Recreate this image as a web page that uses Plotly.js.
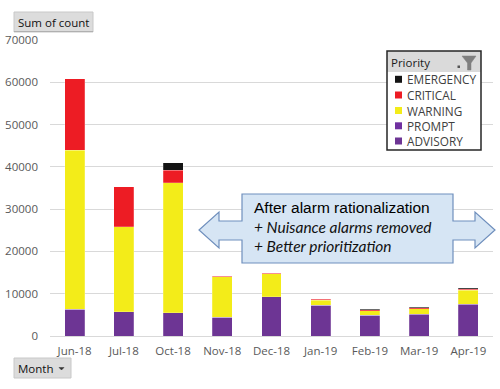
<!DOCTYPE html>
<html>
<head>
<meta charset="utf-8">
<script src="https://cdn.plot.ly/plotly-3.0.1.min.js"></script>
<style>html,body{margin:0;padding:0;background:#fff;}#chart{width:500px;height:389px;}</style>
</head>
<body>
<div id="chart"></div>
<script>
// ---- data ----
const months = ['Jun-18','Jul-18','Oct-18','Nov-18','Dec-18','Jan-19','Feb-19','Mar-19','Apr-19'];
const advisory  = [6300, 5700, 5450, 4400, 9240, 7250, 4880, 5050, 7430];
const prompt    = [  80,   50,   50,   50,   50,   50,   50,   50,   50];
const warning   = [37500,20100,30800, 9530, 5400, 1130, 1100, 1330, 3320];
const critical  = [16900, 9450, 2900,  100,  120,  250,  200,  200,  250];
const emergency = [    0,    0, 1750,  120,  120,  120,  130,  130,  300];
const seriesNames = ['EMERGENCY','CRITICAL','WARNING','PROMPT','ADVISORY'];
const yTickVals = [0,10000,20000,30000,40000,50000,60000,70000];
const calloutTitle = 'After alarm rationalization';
const calloutLines = ['+ Nuisance alarms removed', '+ Better prioritization'];

// ---- styling ----
const colors = {EMERGENCY:'#141414', CRITICAL:'#ed1c24', WARNING:'#f3ec19', PROMPT:'#7030a0', ADVISORY:'#6d3594'};
const W=500,H=389,ML=50,MR=7,MT=40,MB=53;
const PW=W-ML-MR, PH=H-MT-MB;
const px = x => (x-ML)/PW;
const py = y => (H-MB-y)/PH;
const axisFont = {family:'"Open Sans", sans-serif', size:11.5, color:'#595959'};

const valuesByName = {ADVISORY:advisory, PROMPT:prompt, WARNING:warning, CRITICAL:critical, EMERGENCY:emergency};
const stackOrder = ['ADVISORY','PROMPT','WARNING','CRITICAL','EMERGENCY'];
const traces = stackOrder.map(n => ({
  type:'bar', name:n, x:months, y:valuesByName[n],
  marker:{color:colors[n], line:{color:'rgba(255,255,255,0.35)', width:0.6}},
  hoverinfo:'x+y+name'
}));

const shapes = [];
const annotations = [];

// "Sum of count" field button
shapes.push({type:'rect', xref:'paper', yref:'paper', x0:px(14), x1:px(93), y0:py(12), y1:py(32),
  fillcolor:'#dcdcdc', line:{color:'#c8c8c8', width:1}});
shapes.push({type:'line', xref:'paper', yref:'paper', x0:px(14), x1:px(93), y0:py(31.5), y1:py(31.5),
  line:{color:'#b0b0b0', width:1}});
annotations.push({xref:'paper', yref:'paper', x:px(16), y:py(22), xanchor:'left', yanchor:'middle', showarrow:false,
  text:'Sum of count', font:{family:'"Open Sans", sans-serif', size:11.5, color:'#111'}});

// "Month" field button
shapes.push({type:'rect', xref:'paper', yref:'paper', x0:px(14), x1:px(71), y0:py(358), y1:py(378),
  fillcolor:'#dcdcdc', line:{color:'#c8c8c8', width:1}});
shapes.push({type:'path', xref:'paper', yref:'paper',
  path:`M${px(59)},${py(367.5)} L${px(64)},${py(367.5)} L${px(61.5)},${py(370)} Z`,
  fillcolor:'#333', line:{color:'#333', width:0.5}});
annotations.push({xref:'paper', yref:'paper', x:px(16), y:py(368.5), xanchor:'left', yanchor:'middle', showarrow:false,
  text:'Month', font:{family:'"Open Sans", sans-serif', size:11.5, color:'#111'}});

// Callout: rectangle with left/right arrows
const cp = [[242,194],[453,194],[453,221],[475,221],[475,212],[495,230],[475,248],[475,240],[453,240],[453,263],
            [242,263],[242,240],[219,240],[219,248],[199,230],[219,212],[219,221],[242,221]];
shapes.push({type:'path', xref:'paper', yref:'paper', layer:'above',
  path:'M'+cp.map(p=>px(p[0])+','+py(p[1])).join(' L')+' Z',
  fillcolor:'#d6e5f4', line:{color:'#6f8fbd', width:1.2}});
annotations.push({xref:'paper', yref:'paper', x:px(251.5), y:py(207.5), xanchor:'left', yanchor:'middle', showarrow:false,
  text:calloutTitle, font:{family:'"Liberation Sans", Arial, sans-serif', size:15.5, color:'#000'}});
calloutLines.forEach((t,i)=>{
  annotations.push({xref:'paper', yref:'paper', x:px(251.5), y:py(226.7+19*i), xanchor:'left', yanchor:'middle', showarrow:false,
    text:'<i>'+t+'</i>', font:{family:'Lato, sans-serif', size:15.5, color:'#111'}});
});

// Legend box (pivot-chart style)
shapes.push({type:'rect', xref:'paper', yref:'paper', x0:px(387), x1:px(481), y0:py(51), y1:py(150),
  fillcolor:'#ffffff', line:{width:0}});
shapes.push({type:'rect', xref:'paper', yref:'paper', x0:px(387), x1:px(481), y0:py(51), y1:py(72),
  fillcolor:'#dadada', line:{width:0}});
shapes.push({type:'rect', xref:'paper', yref:'paper', x0:px(387), x1:px(481), y0:py(51), y1:py(150),
  fillcolor:'rgba(0,0,0,0)', line:{color:'#262626', width:1.5}});
// filter icon
shapes.push({type:'path', xref:'paper', yref:'paper',
  path:`M${px(462)},${py(56)} L${px(476)},${py(56)} L${px(471)},${py(63)} L${px(471)},${py(70)} L${px(467.5)},${py(70)} L${px(467.5)},${py(63)} Z`,
  fillcolor:'#7f7f7f', line:{color:'#7f7f7f', width:0.5}});
shapes.push({type:'rect', xref:'paper', yref:'paper', x0:px(457.5), x1:px(460), y0:py(65.5), y1:py(68),
  fillcolor:'#555', line:{width:0}});
annotations.push({xref:'paper', yref:'paper', x:px(389), y:py(62), xanchor:'left', yanchor:'middle', showarrow:false,
  text:'Priority', font:{family:'"Open Sans", sans-serif', size:11.5, color:'#1a1a1a'}});
const legY = [79.3, 95, 110.5, 125.8, 141];
seriesNames.forEach((n,i)=>{
  shapes.push({type:'rect', xref:'paper', yref:'paper', x0:px(395), x1:px(402), y0:py(legY[i]-3.5), y1:py(legY[i]+3.5),
    fillcolor:colors[n], line:{width:0}});
  annotations.push({xref:'paper', yref:'paper', x:px(404.5), y:py(legY[i]), xanchor:'left', yanchor:'middle', showarrow:false,
    text:n, font:{family:'"Open Sans", sans-serif', size:11.8, color:'#404040'}});
});

const layout = {
  width:W, height:H,
  margin:{l:ML, r:MR, t:MT, b:MB, pad:0},
  paper_bgcolor:'#ffffff', plot_bgcolor:'#ffffff',
  barmode:'stack', bargap:0.594,
  showlegend:false,
  xaxis:{type:'category', tickfont:axisFont, showgrid:false, zeroline:false, showline:false, ticks:'',
         ticklabelstandoff:6, fixedrange:true},
  yaxis:{range:[0,70000], tickvals:yTickVals, tickformat:'d', tickfont:axisFont, showgrid:true,
         gridcolor:'#d9d9d9', gridwidth:1, zeroline:true, zerolinecolor:'#d9d9d9', zerolinewidth:1,
         showline:false, ticks:'', ticklabelstandoff:11, fixedrange:true},
  shapes:shapes, annotations:annotations,
  font:{family:'"Open Sans", sans-serif'}
};

Plotly.newPlot('chart', traces, layout, {displayModeBar:false, staticPlot:true});
</script>
</body>
</html>
